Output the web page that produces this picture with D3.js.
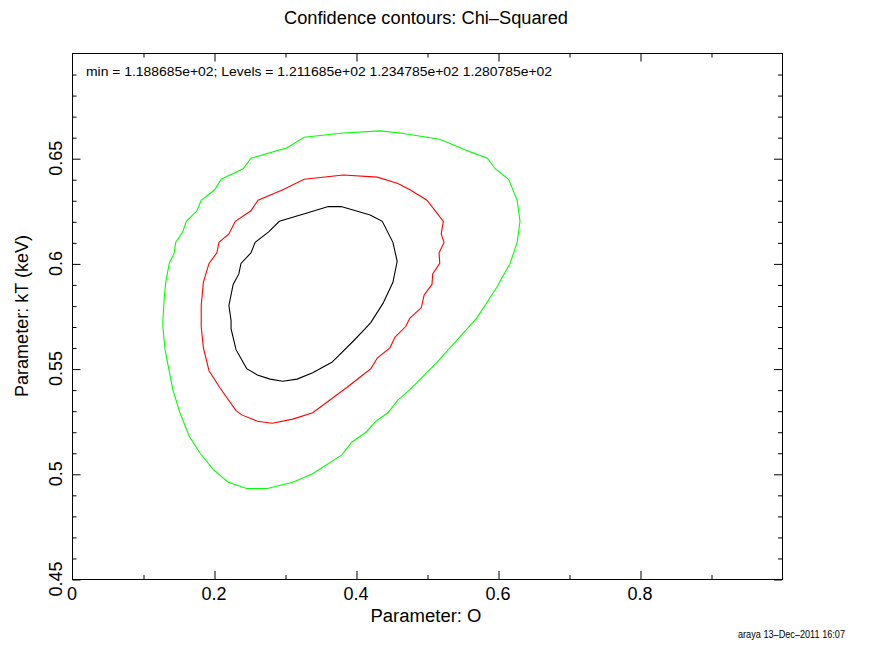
<!DOCTYPE html>
<meta charset="utf-8">
<style>
body { margin: 0; background: #fff; }
text { font-family: "Liberation Sans", Arial, sans-serif; fill: #000; }
.axis path { display: none; }
.axis line { stroke: #000; }
.contour { fill: none; stroke-width: 1.1; }
</style>
<svg width="873" height="647"></svg>
<script src="https://d3js.org/d3.v7.min.js"></script>
<script>

// contour levels (x = O, y = kT)
var outerX = [0.128,0.130,0.132,0.137,0.144,0.146,0.156,0.161,0.176,0.182,0.201,0.210,0.241,0.252,0.303,0.327,0.382,0.434,0.462,0.518,0.561,0.585,0.596,0.615,0.627,0.631,0.627,0.617,0.607,0.599,0.570,0.546,0.514,0.476,0.459,0.445,0.428,0.415,0.394,0.380,0.339,0.311,0.275,0.246,0.220,0.199,0.180,0.165,0.152,0.142,0.131,0.128];
var outerY = [0.573,0.584,0.591,0.600,0.605,0.610,0.615,0.620,0.625,0.630,0.635,0.640,0.645,0.650,0.655,0.660,0.662,0.663,0.662,0.659,0.653,0.650,0.645,0.640,0.630,0.620,0.610,0.600,0.594,0.589,0.574,0.565,0.553,0.540,0.535,0.529,0.525,0.520,0.515,0.509,0.500,0.496,0.493,0.493,0.496,0.502,0.510,0.518,0.529,0.540,0.559,0.570];

var midX = [0.182,0.182,0.185,0.193,0.204,0.207,0.221,0.230,0.252,0.262,0.297,0.327,0.382,0.430,0.459,0.476,0.500,0.523,0.520,0.524,0.517,0.518,0.508,0.507,0.496,0.492,0.476,0.470,0.455,0.448,0.430,0.421,0.406,0.387,0.339,0.311,0.282,0.261,0.239,0.231,0.208,0.193,0.185,0.182];
var midY = [0.573,0.580,0.591,0.600,0.605,0.610,0.614,0.620,0.625,0.630,0.635,0.640,0.642,0.641,0.638,0.635,0.630,0.620,0.614,0.610,0.605,0.600,0.595,0.590,0.585,0.579,0.574,0.570,0.565,0.560,0.555,0.550,0.546,0.541,0.529,0.526,0.524,0.525,0.528,0.530,0.541,0.549,0.560,0.570];

var innerX = [0.224,0.221,0.227,0.235,0.238,0.252,0.258,0.277,0.292,0.331,0.361,0.379,0.420,0.437,0.452,0.458,0.452,0.438,0.421,0.413,0.396,0.366,0.339,0.317,0.297,0.279,0.261,0.246,0.231,0.224];
var innerY = [0.573,0.580,0.590,0.595,0.600,0.605,0.610,0.615,0.620,0.624,0.627,0.627,0.623,0.620,0.610,0.601,0.591,0.581,0.572,0.569,0.563,0.553,0.548,0.545,0.544,0.545,0.547,0.550,0.559,0.569];

var xMajor = [0, 0.2, 0.4, 0.6, 0.8],
    xMinor = [0.1, 0.3, 0.5, 0.7, 0.9],
    yMajor = [0.45, 0.5, 0.55, 0.6, 0.65],
    yMinor = d3.range(45, 71).map(function(d) { return d / 100; });

var svg = d3.select("svg"),
    margin = {top: 53, right: 91, bottom: 68, left: 72},
    width = +svg.attr("width") - margin.left - margin.right,
    height = +svg.attr("height") - margin.top - margin.bottom;

var x = d3.scaleLinear().domain([0, 1]).range([0, width]),
    y = d3.scaleLinear().domain([0.45, 0.70]).range([height, 0]);

var g = svg.append("g")
    .attr("transform", "translate(" + margin.left + "," + margin.top + ")");

// frame
g.append("rect")
    .attr("x", 0.5).attr("y", 0.5)
    .attr("width", width).attr("height", height)
    .attr("fill", "none").attr("stroke", "#000");

// inward ticks on all sides
function ticks(vals, len) {
  g.append("g").attr("class", "axis").call(d3.axisBottom(x).tickValues(vals).tickSize(-len).tickFormat(""))
      .attr("transform", "translate(0.5," + height + ")");
  g.append("g").attr("class", "axis").call(d3.axisTop(x).tickValues(vals).tickSize(-len).tickFormat(""))
      .attr("transform", "translate(0.5,0.5)");
}
ticks(xMinor, 4);
ticks(xMajor.slice(1), 8);

var yMinorOnly = yMinor.filter(function(d) { return yMajor.indexOf(d) < 0 && d < 0.695; });
[[yMinorOnly, 4], [yMajor, 8]].forEach(function(p) {
  g.append("g").attr("class", "axis").call(d3.axisLeft(y).tickValues(p[0]).tickSize(-p[1]).tickFormat(""))
      .attr("transform", "translate(0.5,0.5)");
  g.append("g").attr("class", "axis").call(d3.axisRight(y).tickValues(p[0]).tickSize(-p[1]).tickFormat(""))
      .attr("transform", "translate(" + width + ",0.5)");
});

// tick labels
g.selectAll(".xlab")
  .data(xMajor)
  .enter().append("text")
    .attr("x", function(d) { return x(d); })
    .attr("y", height + 21)
    .attr("text-anchor", "middle")
    .style("font-size", "18px")
    .text(function(d) { return d === 0 ? "0" : d3.format(".1f")(d); });

g.selectAll(".ylab")
  .data(yMajor)
  .enter().append("text")
    .attr("transform", function(d) { return "translate(-10," + y(d) + ") rotate(-90)"; })
    .attr("text-anchor", "middle")
    .style("font-size", "18px")
    .text(function(d) { return String(d); });

// contours
var line = d3.line()
    .x(function(d) { return x(d[0]); })
    .y(function(d) { return y(d[1]); })
    .curve(d3.curveLinearClosed);

[[outerX, outerY, "#00ff00"], [midX, midY, "#ff0000"], [innerX, innerY, "#000000"]].forEach(function(c) {
  g.append("path")
      .attr("class", "contour")
      .attr("stroke", c[2])
      .attr("d", line(c[0].map(function(v, i) { return [v, c[1][i]]; })));
});

// texts
svg.append("text")
    .attr("x", 426).attr("y", 24)
    .attr("text-anchor", "middle")
    .attr("textLength", 284).attr("lengthAdjust", "spacingAndGlyphs")
    .style("font-size", "18px")
    .text("Confidence contours: Chi\u2013Squared");

g.append("text")
    .attr("x", 14).attr("y", 23)
    .attr("textLength", 466).attr("lengthAdjust", "spacingAndGlyphs")
    .style("font-size", "13.5px")
    .text("min = 1.188685e+02; Levels =  1.211685e+02 1.234785e+02 1.280785e+02");

svg.append("text")
    .attr("x", 426).attr("y", 622)
    .attr("text-anchor", "middle")
    .attr("textLength", 111).attr("lengthAdjust", "spacingAndGlyphs")
    .style("font-size", "18px")
    .text("Parameter: O");

svg.append("text")
    .attr("transform", "translate(28," + (margin.top + height / 2) + ") rotate(-90)")
    .attr("text-anchor", "middle")
    .attr("textLength", 162).attr("lengthAdjust", "spacingAndGlyphs")
    .style("font-size", "18px")
    .text("Parameter: kT (keV)");

svg.append("text")
    .attr("x", 738).attr("y", 638)
    .attr("textLength", 107).attr("lengthAdjust", "spacingAndGlyphs")
    .style("font-size", "11px")
    .text("araya 13\u2013Dec\u20132011 16:07");

</script>
